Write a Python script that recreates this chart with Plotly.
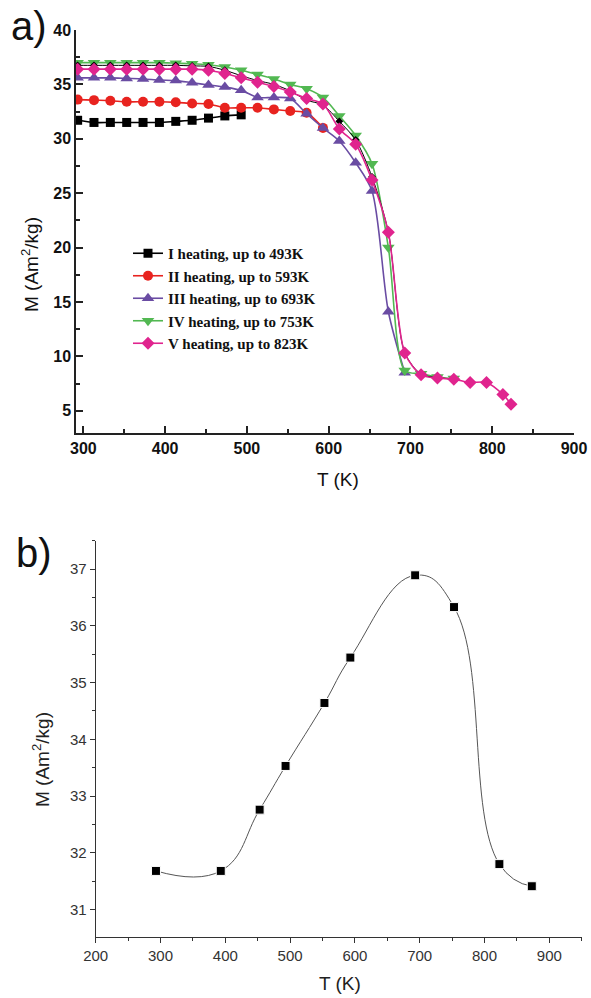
import plotly.graph_objects as go

# ---------------- panel a) data ----------------
T_I = [293, 313, 333, 353, 373, 393, 413, 433, 453, 473, 493]
M_I = [31.7, 31.5, 31.5, 31.5, 31.5, 31.5, 31.6, 31.7, 31.9, 32.1, 32.2]

T_II = [293, 313, 333, 353, 373, 393, 413, 433, 453, 473, 493, 513, 533, 553, 573, 593]
M_II = [33.6, 33.55, 33.5, 33.4, 33.4, 33.4, 33.35, 33.25, 33.2, 32.85, 32.85, 32.85,
        32.7, 32.55, 32.4, 31.0]

T_III = [293, 313, 333, 353, 373, 393, 413, 433, 453, 473, 493, 513, 533, 553, 573,
         593, 613, 633, 653, 673, 693]
M_III = [35.6, 35.6, 35.6, 35.55, 35.5, 35.4, 35.35, 35.15, 34.95, 34.75, 34.45, 33.8,
         33.8, 33.7, 32.3, 31.0, 29.8, 27.8, 25.2, 14.1, 8.5]

T_IV = [293, 313, 333, 353, 373, 393, 413, 433, 453, 473, 493, 513, 533, 553, 573,
        593, 613, 633, 653, 673, 693, 713, 733, 753]
M_IV = [37.0, 37.0, 37.0, 37.0, 37.0, 37.0, 36.95, 36.9, 36.8, 36.6, 36.3, 35.9,
        35.5, 35.0, 34.6, 33.8, 32.1, 30.3, 27.7, 20.0, 8.7, 8.4, 8.1, 7.95]

T_V = [293, 313, 333, 353, 373, 393, 413, 433, 453, 473, 493, 513, 533, 553, 573,
       593, 613, 633, 653, 673, 693, 713, 733, 753, 773, 793, 813, 823]
M_V = [36.4, 36.4, 36.4, 36.4, 36.4, 36.4, 36.4, 36.4, 36.3, 36.0, 35.6, 35.2,
       34.8, 34.3, 33.7, 33.2, 30.9, 29.5, 26.2, 21.4, 10.3, 8.3, 8.0, 7.9, 7.6,
       7.6, 6.5, 5.6]

T_X = [293, 313, 333, 353, 373, 393, 413, 433, 453, 473, 493, 513, 533, 553, 573,
       593, 613, 633, 653, 673, 693, 713, 733, 753]
M_X = [36.75, 36.75, 36.75, 36.75, 36.75, 36.75, 36.75, 36.7, 36.65, 36.3, 35.8,
       35.35, 35.0, 34.4, 33.55, 33.1, 31.6, 29.9, 26.5, 21.4, 10.35, 8.35, 8.05, 7.9]

names_a = ["I heating, up to 493K", "II heating, up to 593K", "III heating, up to 693K",
           "IV heating, up to 753K", "V heating, up to 823K"]

# ---------------- panel b) data ----------------
T_b = [293, 393, 453, 493, 553, 593, 693, 753, 823, 873]
M_b = [31.68, 31.68, 32.76, 33.53, 34.64, 35.44, 36.89, 36.33, 31.80, 31.41]

W, H = 591, 998
fig = go.Figure()

series = [
    (T_I, M_I, "#000000", "square", 9, names_a[0]),
    (T_II, M_II, "#E8231F", "circle", 10, names_a[1]),
    (T_III, M_III, "#6A4CA3", "triangle-up", 11, names_a[2]),
    (T_IV, M_IV, "#52B852", "triangle-down", 11, names_a[3]),
    (T_V, M_V, "#E0248E", "diamond", 10, names_a[4]),
]

for tx, my, col, sym, sz, nm in series:
    fig.add_trace(go.Scatter(
        x=tx, y=my, name=nm, mode="lines+markers",
        line=dict(color=col, width=1.6, shape="spline", smoothing=0.8),
        marker=dict(color=col, symbol=sym, size=sz),
        xaxis="x", yaxis="y", legendgroup="a"))
    if nm == names_a[3]:
        fig.add_trace(go.Scatter(
            x=T_X, y=M_X, mode="lines+markers", showlegend=False,
            line=dict(color="#000000", width=1, shape="spline", smoothing=0.8),
            marker=dict(color="#000000", symbol="diamond", size=6),
            xaxis="x", yaxis="y"))

fig.add_trace(go.Scatter(
    x=T_b, y=M_b, mode="lines+markers", showlegend=False,
    line=dict(color="#555555", width=1, shape="spline", smoothing=1.3),
    marker=dict(color="#000000", symbol="square", size=9,
                line=dict(color="white", width=1)),
    xaxis="x2", yaxis="y2"))

bold_font = dict(family="Liberation Sans, Arial", size=16, color="#111111", weight=700)
axis_font_b = dict(family="Liberation Sans, Arial", size=15, color="#333333")

fig.update_layout(
    width=W, height=H,
    margin=dict(l=0, r=0, t=0, b=0, pad=0, autoexpand=False),
    paper_bgcolor="white", plot_bgcolor="white",
    showlegend=True,
    legend=dict(x=128 / W, y=1 - 237 / H, xanchor="left", yanchor="top",
                font=dict(family="Liberation Serif, Times New Roman", size=15,
                          color="#111111", weight=700),
                bgcolor="rgba(0,0,0,0)", tracegroupgap=0, itemwidth=30),
    xaxis=dict(domain=[76 / W, 574 / W], range=[291, 900], anchor="y",
               tickvals=[300, 400, 500, 600, 700, 800, 900],
               ticks="inside", ticklen=7, tickwidth=1.5, tickcolor="#222",
               minor=dict(ticks="inside", ticklen=4, tickcolor="#222",
                          dtick=50, tick0=250),
               showline=True, linecolor="#222", linewidth=1.5,
               showgrid=False, zeroline=False, tickfont=bold_font),
    yaxis=dict(domain=[1 - 433 / H, 1 - 30 / H], range=[2.95, 40], anchor="x",
               tickvals=[5, 10, 15, 20, 25, 30, 35, 40],
               ticks="inside", ticklen=7, tickwidth=1.5, tickcolor="#222",
               minor=dict(ticks="inside", ticklen=4, tickcolor="#222",
                          dtick=2.5, tick0=2.5),
               showline=True, linecolor="#222", linewidth=1.5,
               showgrid=False, zeroline=False, tickfont=bold_font),
    xaxis2=dict(domain=[95.7 / W, 581.7 / W], range=[200, 950], anchor="y2",
                tickvals=[200, 300, 400, 500, 600, 700, 800, 900],
                ticks="outside", ticklen=5, tickwidth=1.2, tickcolor="#333",
                minor=dict(ticks="outside", ticklen=3, tickcolor="#333",
                           dtick=50, tick0=200),
                showline=True, linecolor="#333", linewidth=1.2,
                showgrid=False, zeroline=False, tickfont=axis_font_b),
    yaxis2=dict(domain=[1 - 937.3 / H, 1 - 540.7 / H], range=[30.51, 37.5],
                anchor="x2",
                tickvals=[31, 32, 33, 34, 35, 36, 37],
                ticks="outside", ticklen=5, tickwidth=1.2, tickcolor="#333",
                minor=dict(ticks="outside", ticklen=3, tickcolor="#333",
                           dtick=0.5, tick0=30.5),
                showline=True, linecolor="#333", linewidth=1.2,
                showgrid=False, zeroline=False, tickfont=axis_font_b),
)

ann = [
    dict(text="a)", x=29 / W, y=1 - 26 / H,
         font=dict(family="Liberation Sans, Arial", size=40, color="#111")),
    dict(text="b)", x=34 / W, y=1 - 553 / H,
         font=dict(family="Liberation Sans, Arial", size=40, color="#111")),
    dict(text="T (K)", x=338 / W, y=1 - 479 / H,
         font=dict(family="Liberation Sans, Arial", size=19, color="#111")),
    dict(text="T (K)", x=340 / W, y=1 - 983 / H,
         font=dict(family="Liberation Sans, Arial", size=19, color="#222")),
    dict(text="M (Am<sup>2</sup>/kg)", x=30 / W, y=1 - 265 / H, textangle=-90,
         font=dict(family="Liberation Sans, Arial", size=19, color="#111")),
    dict(text="M (Am<sup>2</sup>/kg)", x=41 / W, y=1 - 760 / H, textangle=-90,
         font=dict(family="Liberation Sans, Arial", size=19, color="#222")),
]
for a in ann:
    a.update(xref="paper", yref="paper", showarrow=False, xanchor="center",
             yanchor="middle")
fig.update_layout(annotations=ann)

fig.write_html("out.html", config={"displayModeBar": False},
               post_script="document.body.style.margin='0';document.body.style.padding='0';")
